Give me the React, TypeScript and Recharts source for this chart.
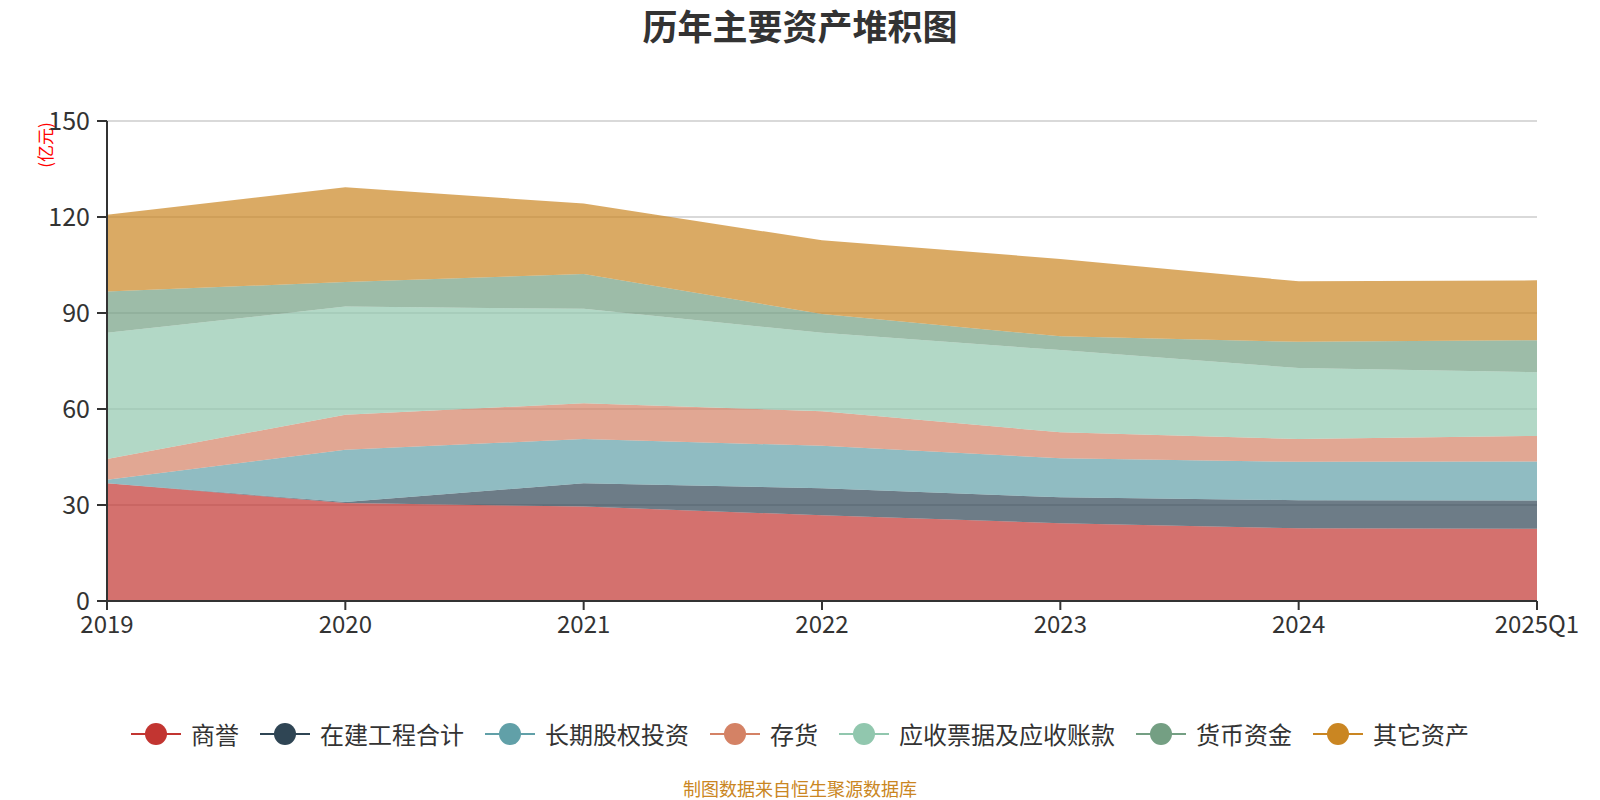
import React from "react";
import { AreaChart, Area, XAxis, YAxis, CartesianGrid } from "recharts";

const categories = ["2019", "2020", "2021", "2022", "2023", "2024", "2025Q1"];
const seriesNames = ["商誉", "在建工程合计", "长期股权投资", "存货", "应收票据及应收账款", "货币资金", "其它资产"];
const seriesColors = ["#c23531", "#2f4554", "#61a0a8", "#d48265", "#91c7ae", "#749f83", "#ca8622"];

const goodwill = [36.8, 30.6, 29.5, 26.8, 24.3, 22.7, 22.6];
const construction = [0.0, 0.3, 7.3, 8.4, 8.1, 8.8, 8.8];
const equityInvest = [1.1, 16.4, 13.8, 13.3, 12.2, 12.0, 12.2];
const inventory = [6.5, 10.9, 11.2, 10.8, 8.1, 7.1, 8.0];
const receivables = [39.4, 33.8, 29.5, 24.5, 25.7, 22.2, 19.9];
const cash = [12.9, 7.7, 10.9, 5.9, 4.3, 8.2, 10.0];
const otherAssets = [24.0, 29.6, 22.0, 23.0, 24.2, 18.9, 18.7];

const yTicks = [0, 30, 60, 90, 120, 150];
const titleText = "历年主要资产堆积图";
const unitText = "(亿元)";
const footerText = "制图数据来自恒生聚源数据库";

const seriesValues = [goodwill, construction, equityInvest, inventory, receivables, cash, otherAssets];
const keys = ["s0", "s1", "s2", "s3", "s4", "s5", "s6"];

const data = categories.map((c, i) => {
  const row: Record<string, string | number> = { name: c };
  seriesValues.forEach((vals, k) => {
    row[keys[k]] = vals[i];
  });
  return row;
});

const FONT = '"Noto Sans CJK SC", "Noto Sans", sans-serif';

function LegendIcon({ color }: { color: string }) {
  return (
    <svg width={50} height={24} style={{ display: "block" }}>
      <line x1={0} y1={12} x2={50} y2={12} stroke={color} strokeWidth={2} />
      <circle cx={25} cy={12} r={11} fill={color} />
    </svg>
  );
}

export default function App() {
  return (
    <div
      style={{
        position: "absolute",
        left: 0,
        top: 0,
        width: 1600,
        height: 800,
        background: "#fff",
        fontFamily: FONT,
        overflow: "hidden",
      }}
    >
      <div
        style={{
          position: "absolute",
          left: 0,
          width: 1600,
          top: 6,
          textAlign: "center",
          fontSize: 35,
          fontWeight: "bold",
          color: "#333",
          lineHeight: "38px",
        }}
      >
        {titleText}
      </div>
      <div
        style={{
          position: "absolute",
          left: 44,
          top: 145,
          transform: "translate(-50%, -50%) rotate(-90deg)",
          fontSize: 17,
          color: "#ff0000",
          whiteSpace: "nowrap",
          lineHeight: "19px",
        }}
      >
        {unitText}
      </div>
      <AreaChart
        width={1600}
        height={800}
        data={data}
        margin={{ top: 121, right: 63, bottom: 169, left: 0 }}
      >
        <CartesianGrid horizontal={true} vertical={false} stroke="#cccccc" strokeWidth={1.5} />
        <XAxis
          dataKey="name"
          height={30}
          tick={{ fill: "#333", fontSize: 24, fontFamily: FONT }}
          tickLine={{ stroke: "#333", strokeWidth: 2 }}
          axisLine={{ stroke: "#333", strokeWidth: 2 }}
          tickSize={9}
          tickMargin={6}
          interval={0}
        />
        <YAxis
          width={107}
          domain={[0, 150]}
          ticks={yTicks}
          type="number"
          tick={{ fill: "#333", fontSize: 25, fontFamily: FONT }}
          tickLine={{ stroke: "#333", strokeWidth: 2 }}
          axisLine={{ stroke: "#333", strokeWidth: 2 }}
          tickSize={10}
          tickMargin={7}
          interval={0}
        />
        {keys.map((k, i) => (
          <Area
            key={k}
            type="linear"
            dataKey={k}
            name={seriesNames[i]}
            stackId="1"
            stroke="none"
            fill={seriesColors[i]}
            fillOpacity={0.7}
            dot={false}
            activeDot={false}
            isAnimationActive={false}
          />
        ))}
      </AreaChart>
      <div
        style={{
          position: "absolute",
          left: 0,
          width: 1600,
          top: 719,
          display: "flex",
          justifyContent: "center",
          alignItems: "center",
          gap: 21,
        }}
      >
        {seriesNames.map((n, i) => (
          <div key={n} style={{ display: "flex", alignItems: "center" }}>
            <LegendIcon color={seriesColors[i]} />
            <span style={{ marginLeft: 10, fontSize: 24, color: "#333", lineHeight: "30px" }}>{n}</span>
          </div>
        ))}
      </div>
      <div
        style={{
          position: "absolute",
          left: 0,
          width: 1600,
          top: 777,
          textAlign: "center",
          fontSize: 18,
          color: "#ca8622",
          lineHeight: "22px",
        }}
      >
        {footerText}
      </div>
    </div>
  );
}
